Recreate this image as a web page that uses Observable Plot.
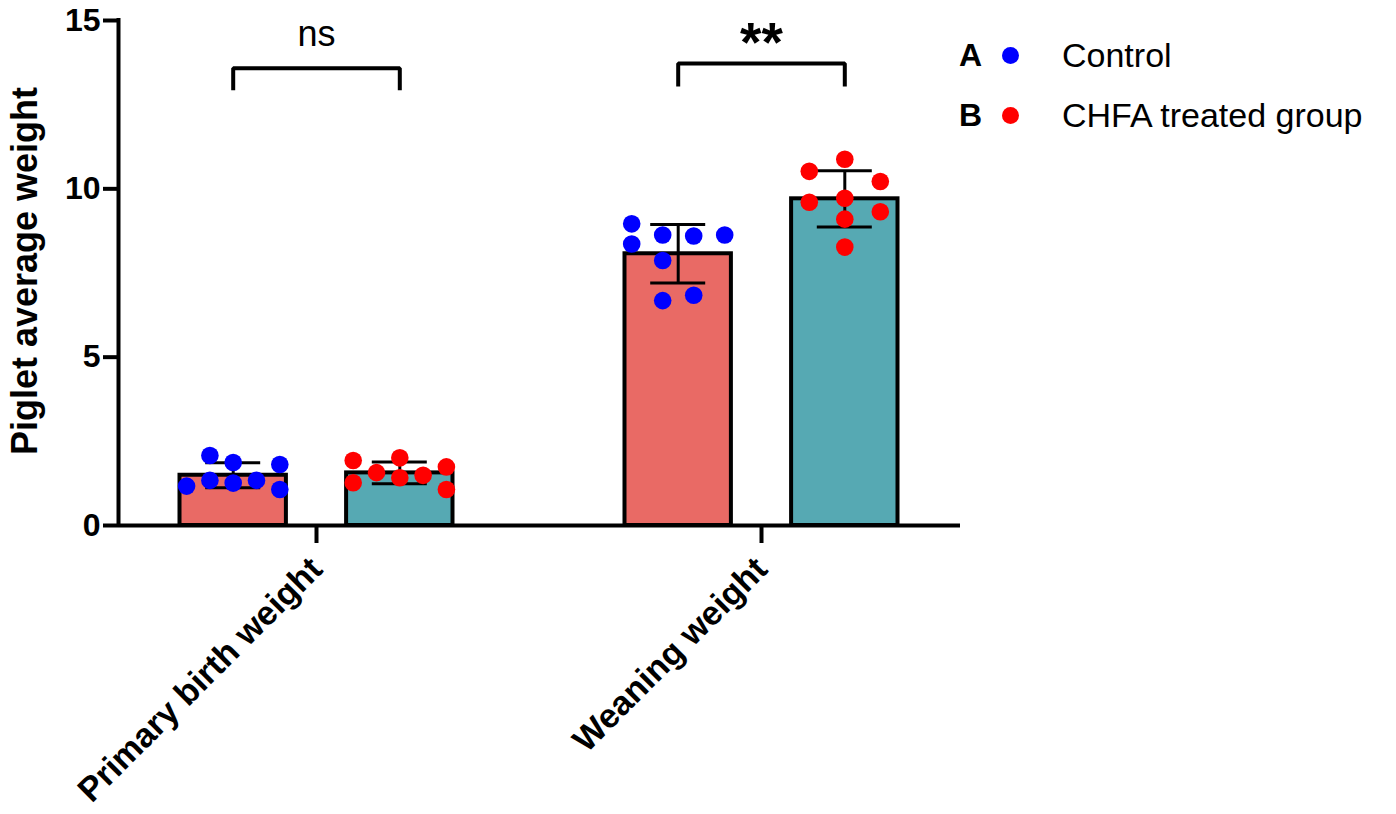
<!DOCTYPE html>
<html>
<head>
<meta charset="utf-8">
<script src="https://cdn.jsdelivr.net/npm/d3@7"></script>
<script src="https://cdn.jsdelivr.net/npm/@observablehq/plot@0.6"></script>
<style>
  html, body { margin: 0; padding: 0; background: #fff; }
  #wrap { position: relative; width: 1396px; height: 814px; font-family: "Liberation Sans", Arial, sans-serif; }
  #legend .t { position: absolute; white-space: nowrap; color: #000; }
  #legend .k { font-size: 32px; line-height: 32px; font-weight: bold; }
  #legend .l { font-size: 34px; line-height: 34px; }
  #legend .d { position: absolute; width: 17px; height: 17px; border-radius: 50%; }
</style>
</head>
<body>
<div id="wrap">
  <div id="chart"></div>
  <div id="legend"></div>
</div>
<script>
// ---- data ----
const categories = ["Primary birth weight", "Weaning weight"];
const groups = ["Control", "CHFA treated group"];
const groupKeys = ["A", "B"];
const dotColors = ["#0000FF", "#FF0000"];
const barColors = ["#E96A65", "#56A9B3"];

const primaryControl = [1.17, 2.08, 1.34, 1.87, 1.26, 1.34, 1.81, 1.07];
const primaryCHFA    = [1.93, 1.27, 1.57, 2.01, 1.42, 1.49, 1.74, 1.07];
const weaningControl = [8.96, 8.36, 8.63, 7.87, 6.68, 8.60, 6.84, 8.63];
const weaningCHFA    = [10.52, 9.60, 10.88, 9.72, 9.10, 8.27, 10.22, 9.32];

// scatter column of each point (arrangement within the bar)
const primaryControlCol = [-2, -1, -1, 0, 0, 1, 2, 2];
const primaryCHFACol    = [-2, -2, -1, 0, 0, 1, 2, 2];
const weaningControlCol = [-1.5, -1.5, -0.5, -0.5, -0.5, 0.5, 0.5, 1.5];
const weaningCHFACol    = [-1, -1, 0, 0, 0, 0, 1, 1];

const sigLabels = ["ns", "**"];
const bracketTop = [13.58, 13.72];
const bracketBottom = [12.93, 13.04];

const yTicks = [0, 5, 10, 15];

// ---- layout ----
const W = 1396, H = 814;
const ML = 118, MR = 436, MT = 20, MB = 289;
const unit = 445;                       // px per category step
const xDomain = [(ML - 316) / unit, (W - MR - 316) / unit];
const groupOffset = [-83.3 / unit, 83.3 / unit];
const barHalf = 53.2 / unit;
const capHalf = 27.5 / unit;
const colStep = [23.3 / unit, 23.3 / unit, 31 / unit, 35.5 / unit];

const series = [
  {cat: 0, grp: 0, values: primaryControl, cols: primaryControlCol, step: colStep[0]},
  {cat: 0, grp: 1, values: primaryCHFA, cols: primaryCHFACol, step: colStep[1]},
  {cat: 1, grp: 0, values: weaningControl, cols: weaningControlCol, step: colStep[2]},
  {cat: 1, grp: 1, values: weaningCHFA, cols: weaningCHFACol, step: colStep[3]}
];

const bars = series.map(s => {
  const cx = s.cat + groupOffset[s.grp];
  return {cx, x1: cx - barHalf, x2: cx + barHalf, mean: d3.mean(s.values), sd: d3.deviation(s.values), fill: barColors[s.grp]};
});
const caps = bars.flatMap(b => [
  {x1: b.cx - capHalf, x2: b.cx + capHalf, y: b.mean - b.sd},
  {x1: b.cx - capHalf, x2: b.cx + capHalf, y: b.mean + b.sd}
]);
const points = series.flatMap(s => s.values.map((v, i) => ({
  x: s.cat + groupOffset[s.grp] + s.cols[i] * s.step, y: v, fill: dotColors[s.grp]
})));
const brackets = sigLabels.map((label, c) => ({cat: c, label, top: bracketTop[c], bottom: bracketBottom[c]}));
const bracketPts = brackets.flatMap(b => [
  {id: b.cat, x: b.cat + groupOffset[0], y: b.bottom},
  {id: b.cat, x: b.cat + groupOffset[0], y: b.top},
  {id: b.cat, x: b.cat + groupOffset[1], y: b.top},
  {id: b.cat, x: b.cat + groupOffset[1], y: b.bottom}
]);

const font = "'Liberation Sans', Arial, sans-serif";

const chart = Plot.plot({
  width: W, height: H,
  marginLeft: ML, marginRight: MR, marginTop: MT, marginBottom: MB,
  style: {fontFamily: font, fontWeight: "bold", color: "#000", background: "#fff", overflow: "visible"},
  x: {domain: xDomain},
  y: {domain: [0, 15]},
  color: {type: "identity"},
  marks: [
    Plot.rectY(bars, {x1: "x1", x2: "x2", y1: 0, y2: "mean", fill: "fill", stroke: "#000", strokeWidth: 4}),
    Plot.ruleX(bars, {x: "cx", y1: d => d.mean - d.sd, y2: d => d.mean + d.sd, stroke: "#000", strokeWidth: 3}),
    Plot.ruleY(caps, {x1: "x1", x2: "x2", y: "y", stroke: "#000", strokeWidth: 3}),
    Plot.dot(points, {x: "x", y: "y", r: 8.8, fill: "fill", stroke: null}),
    Plot.line(bracketPts, {x: "x", y: "y", z: "id", stroke: "#000", strokeWidth: 4, strokeLinejoin: "miter", strokeLinecap: "butt"}),
    Plot.text(brackets.filter(b => b.label === "ns"), {x: "cat", y: d => d.top, dy: -22, text: "label", fontSize: 36, fontWeight: "normal", lineAnchor: "bottom", fill: "#000"}),
    Plot.text(brackets.filter(b => b.label !== "ns"), {x: "cat", y: d => d.top, dy: -3, text: "label", fontSize: 55, fontWeight: "bold", lineAnchor: "bottom", fill: "#000"}),
    Plot.ruleY([0], {stroke: "#000", strokeWidth: 4}),
    Plot.ruleX([xDomain[0]], {y1: 0, y2: 15, stroke: "#000", strokeWidth: 4, strokeLinecap: "square"}),
    Plot.axisY(yTicks, {tickSize: 15, tickPadding: 3, fontSize: 32, fontWeight: "bold", strokeWidth: 4, label: null, fill: "#000", stroke: "#000"}),
    Plot.axisX([0, 1], {tickFormat: i => categories[i], tickRotate: -45, tickSize: 18, tickPadding: 20, fontSize: 34, fontWeight: "bold", strokeWidth: 4, label: null, fill: "#000", stroke: "#000"}),
    Plot.text(["Piglet average weight"], {frameAnchor: "left", textAnchor: "middle", rotate: -90, dx: -82, dy: -2, lineAnchor: "bottom", fontSize: 36, fontWeight: "bold", fill: "#000"})
  ]
});
document.getElementById("chart").appendChild(chart);

// legend
const legend = document.getElementById("legend");
groups.forEach((g, i) => {
  const cy = 55 + i * 60;
  const k = document.createElement("div");
  k.className = "t k"; k.textContent = groupKeys[i];
  k.style.left = "959px"; k.style.top = (cy - 16) + "px";
  const d = document.createElement("div");
  d.className = "d"; d.style.background = dotColors[i];
  d.style.left = "1001.5px"; d.style.top = (cy - 8.5) + "px";
  const l = document.createElement("div");
  l.className = "t l"; l.textContent = g;
  l.style.left = "1062px"; l.style.top = (cy - 17) + "px";
  legend.append(k, d, l);
});
</script>
</body>
</html>
